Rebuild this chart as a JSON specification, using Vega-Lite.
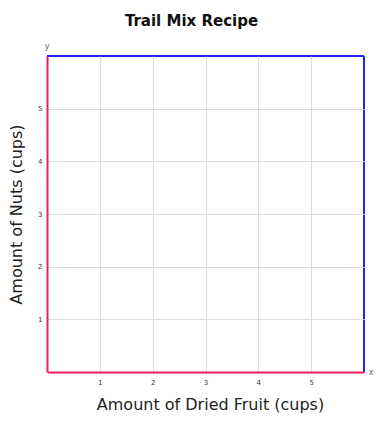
{
  "$schema": "https://vega.github.io/schema/vega-lite/v6.json",
  "width": 317,
  "height": 316,
  "autosize": "none",
  "padding": {"left": 47, "top": 56, "right": 24, "bottom": 52},
  "background": "white",
  "config": {
    "font": "DejaVu Sans",
    "view": {"stroke": null}
  },
  "title": {
    "text": "Trail Mix Recipe",
    "font": "DejaVu Sans",
    "fontSize": 15,
    "fontWeight": "bold",
    "color": "#111",
    "anchor": "middle",
    "dx": -14,
    "offset": 14
  },
  "datasets": {
    "frame": [
      {"x": 0, "y": 6, "x2": 6, "y2": 6},
      {"x": 6, "y": 0, "x2": 6, "y2": 6}
    ],
    "axisNames": [
      {"name": "x", "x": 6, "y": 0},
      {"name": "y", "x": 0, "y": 6}
    ]
  },
  "layer": [
    {
      "data": {"name": "frame"},
      "mark": {"type": "rule", "color": "#2323f5", "strokeWidth": 2},
      "encoding": {
        "x": {
          "field": "x", "type": "quantitative",
          "scale": {"domain": [0, 6], "nice": false, "zero": false},
          "axis": {
            "values": [1, 2, 3, 4, 5],
            "title": "Amount of Dried Fruit (cups)",
            "titleFont": "DejaVu Sans",
            "titleFontSize": 16,
            "titleFontWeight": "normal",
            "titleColor": "#222",
            "titlePadding": 11,
            "titleX": 163,
            "labelFontSize": 7,
            "labelColor": "#333",
            "labelPadding": 6,
            "ticks": false,
            "domainColor": "#e91e63",
            "domainWidth": 2,
            "gridColor": "#dcdcdc",
            "gridWidth": 1,
            "zindex": 1
          }
        },
        "x2": {"field": "x2"},
        "y": {
          "field": "y", "type": "quantitative",
          "scale": {"domain": [0, 6], "nice": false, "zero": false},
          "axis": {
            "values": [1, 2, 3, 4, 5],
            "title": "Amount of Nuts (cups)",
            "titleFont": "DejaVu Sans",
            "titleFontSize": 16,
            "titleFontWeight": "normal",
            "titleColor": "#222",
            "titlePadding": 13,
            "labelFontSize": 7,
            "labelColor": "#333",
            "labelPadding": 5,
            "ticks": false,
            "domainColor": "#e91e63",
            "domainWidth": 2,
            "gridColor": "#dcdcdc",
            "gridWidth": 1,
            "zindex": 1
          }
        },
        "y2": {"field": "y2"}
      }
    },
    {
      "data": {"name": "axisNames"},
      "transform": [{"filter": "datum.name === 'x'"}],
      "mark": {"type": "text", "fontSize": 8, "color": "#667", "align": "center", "baseline": "middle", "dx": 7, "dy": 1},
      "encoding": {
        "x": {"field": "x", "type": "quantitative"},
        "y": {"field": "y", "type": "quantitative"},
        "text": {"field": "name"}
      }
    },
    {
      "data": {"name": "axisNames"},
      "transform": [{"filter": "datum.name === 'y'"}],
      "mark": {"type": "text", "fontSize": 8, "color": "#667", "align": "center", "baseline": "middle", "dx": 0, "dy": -9},
      "encoding": {
        "x": {"field": "x", "type": "quantitative"},
        "y": {"field": "y", "type": "quantitative"},
        "text": {"field": "name"}
      }
    }
  ]
}
